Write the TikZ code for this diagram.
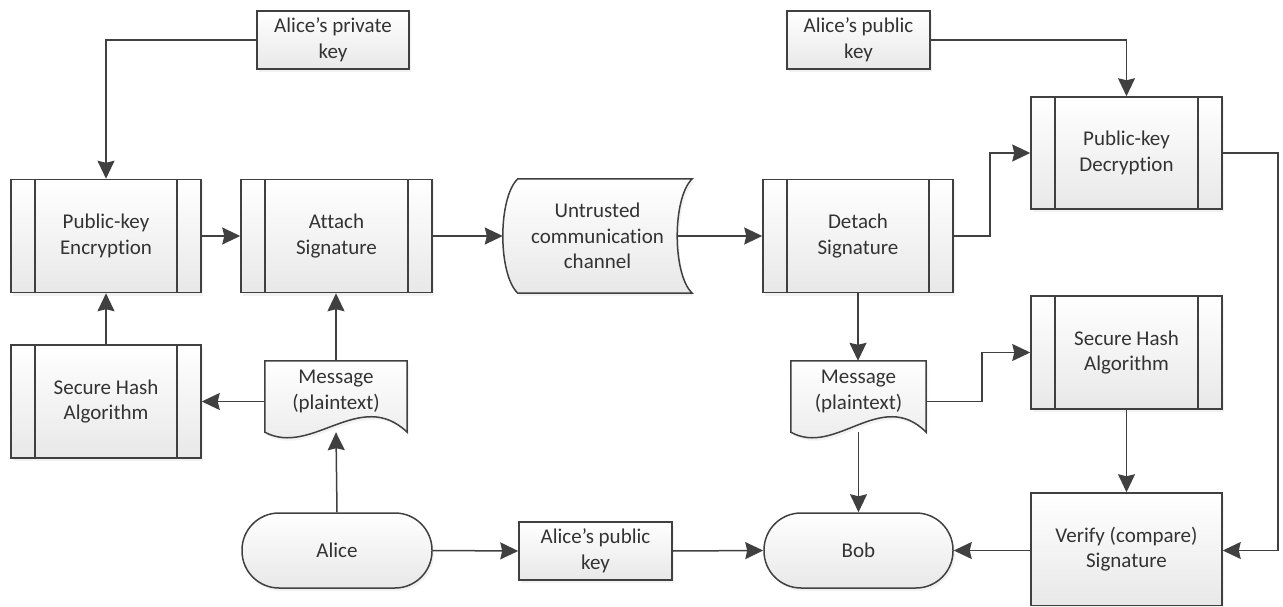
\documentclass[tikz,border=0pt]{standalone}
\usepackage{fontspec}
\setmainfont{Carlito}[Ligatures=NoCommon]
\usetikzlibrary{arrows.meta,shadows}

\definecolor{linec}{HTML}{404040}
\definecolor{textc}{HTML}{333333}

\begin{document}
\begin{tikzpicture}[x=1pt,y=-1pt]
\tikzset{
  base/.style={draw=linec, line width=1.5pt, top color=white, bottom color=black!9,
    text=textc, align=center, inner sep=0pt,
    font=\fontsize{21}{25.5}\selectfont,
    drop shadow={shadow xshift=2pt, shadow yshift=-3pt, opacity=0.10}},
  subproc/.style={base, minimum width=190pt, minimum height=113pt,
    path picture={\draw[line width=1.5pt, draw=linec]
      ([xshift=24pt]path picture bounding box.north west) -- ([xshift=24pt]path picture bounding box.south west)
      ([xshift=-24pt]path picture bounding box.north east) -- ([xshift=-24pt]path picture bounding box.south east);}},
  keybox/.style={base, minimum height=58pt},
  terminal/.style={base, rounded corners=37pt, minimum width=190pt, minimum height=75pt},
  plainbox/.style={base, minimum width=191pt},
  textonly/.style={text=textc, align=center, inner sep=0pt,
    font=\fontsize{21}{25.5}\selectfont},
  outline/.style={draw=linec, line width=1.5pt, top color=white, bottom color=black!9,
    drop shadow={shadow xshift=2pt, shadow yshift=-3pt, opacity=0.10}},
  conn/.style={draw=linec, line width=1.5pt,
    -{Triangle[length=18pt,width=17pt,inset=2pt]}}
}
\useasboundingbox (0,0) rectangle (1283,607);

% ---------- sender side ----------
\node[keybox, minimum width=152pt] (priv) at (333,40) {Alice’s private\\key};
\node[subproc] (pke) at (106,236) {Public-key\\Encryption};
\node[subproc, minimum width=191pt] (attach) at (336.5,236) {Attach\\Signature};
\node[subproc] (shaL) at (106,401.5) {Secure Hash\\Algorithm};

% message document (left)
\node[textonly, minimum width=142pt, minimum height=61pt] (m1) at (336,391.5) {};
\path[outline] (m1.north west) -- (m1.north east) -- ([yshift=-10pt]m1.south east)
  .. controls ([shift={(-47,-35)}]m1.south east) and ([shift={(47,35)}]m1.south west) .. ([yshift=-10pt]m1.south west)
  -- cycle;
\node[textonly] at (m1) {Message\\(plaintext)};
\coordinate (m1wave) at ([yshift=-10pt]m1.south);

\node[terminal] (alice) at (337,550.5) {Alice};
\node[keybox, minimum width=153pt] (pubB) at (595.5,551) {Alice’s public\\key};

% ---------- channel ----------
\node[textonly, minimum width=189pt, minimum height=114pt] (ch) at (597.5,236) {};
\path[outline] ([xshift=15pt]ch.north west) -- (ch.north east)
  .. controls ([shift={(-20,19)}]ch.north east) and ([shift={(-20,-19)}]ch.south east) .. (ch.south east)
  -- ([xshift=15pt]ch.south west)
  .. controls ([shift={(-5,-19)}]ch.south west) and ([shift={(-5,19)}]ch.north west) .. ([xshift=15pt]ch.north west)
  -- cycle;
\node[textonly] at (ch) {Untrusted\\communication\\channel};
\coordinate (chout) at ([xshift=-15pt]ch.east);

% ---------- receiver side ----------
\node[keybox, minimum width=143pt] (pubT) at (858.5,40) {Alice’s public\\key};
\node[subproc] (det) at (858,236) {Detach\\Signature};
\node[subproc, minimum width=191pt, minimum height=112pt] (pkd) at (1126.5,153) {Public-key\\Decryption};
\node[subproc, minimum width=191pt] (shaR) at (1126.5,352.5) {Secure Hash\\Algorithm};

% message document (right)
\node[textonly, minimum width=135pt, minimum height=61pt] (m2) at (858.5,391.5) {};
\path[outline] (m2.north west) -- (m2.north east) -- ([yshift=-10pt]m2.south east)
  .. controls ([shift={(-45,-35)}]m2.south east) and ([shift={(45,35)}]m2.south west) .. ([yshift=-10pt]m2.south west)
  -- cycle;
\node[textonly] at (m2) {Message\\(plaintext)};
\coordinate (m2wave) at ([yshift=-10pt]m2.south);

\node[terminal, minimum width=189pt] (bob) at (858.5,550.5) {Bob};
\node[plainbox, minimum height=112.5pt] (ver) at (1126.5,549.25) {Verify (compare)\\Signature};

% ---------- connectors ----------
\draw[conn] (priv.west) -| (pke.north);
\draw[conn] (shaL.north) -- (pke.south);
\draw[conn] (pke.east) -- (attach.west);
\draw[conn] (m1.north) -- (m1.north |- attach.south);
\draw[conn] ([yshift=-10pt]m1.west) -- (shaL.east);
\draw[conn] (alice.north) -- (m1wave);
\draw[conn] (alice.east) -- (pubB.west);
\draw[conn] (pubB.east) -- (bob.west);
\draw[conn] (attach.east) -- (ch.west);
\draw[conn] (chout) -- (det.west);
\draw[conn] (pubT.east) -| (pkd.north);
\draw[conn] (det.east) -- ++(36,0) |- (pkd.west);
\draw[conn] (pkd.east) -- ++(55,0) |- (ver.east |- bob.east);
\draw[conn] (det.south) -- (det.south |- m2.north);
\draw[conn] ([yshift=-10pt]m2.east) -- ++(56,0) |- (shaR.west);
\draw[conn] (m2wave) -- (bob.north);
\draw[conn] (shaR.south) -- (ver.north);
\draw[conn] (ver.west |- bob.east) -- (bob.east);
\end{tikzpicture}
\end{document}
